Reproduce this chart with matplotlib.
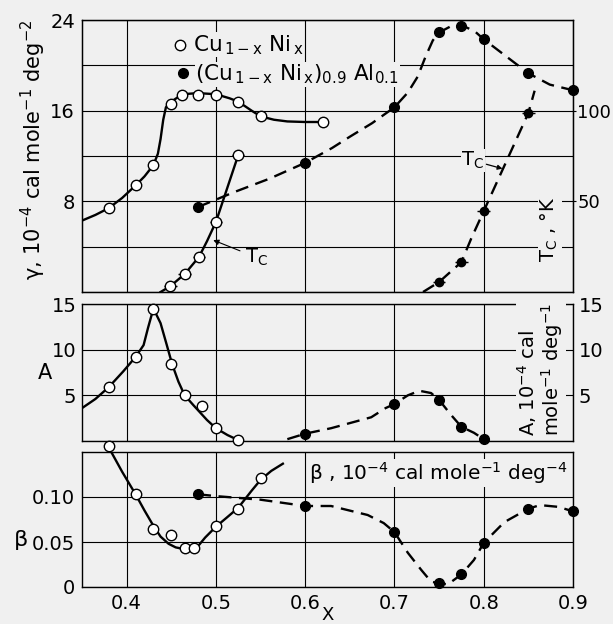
import numpy as np
import matplotlib
matplotlib.use("Agg")
import matplotlib.pyplot as plt

plt.rcParams['font.family'] = ['DejaVu Sans']
plt.rcParams['mathtext.default'] = 'regular'
plt.rcParams['font.size'] = 14

bg = '#f0f0f0'

# ---- gamma panel (Cu1-x Nix, open) ----
gam_cu_x = [0.38, 0.41, 0.43, 0.45, 0.4625, 0.48, 0.50, 0.525, 0.55, 0.62]
gam_cu = [7.4, 9.4, 11.2, 16.6, 17.4, 17.4, 17.4, 16.8, 15.5, 15.0]
gam_cu_line_x = [0.35, 0.365, 0.38, 0.395, 0.41, 0.42, 0.43, 0.435, 0.438, 0.441, 0.444, 0.45,
                 0.4625, 0.48, 0.50, 0.515, 0.525, 0.54, 0.55, 0.565, 0.58, 0.60, 0.62]
gam_cu_line = [6.3, 6.8, 7.4, 8.3, 9.4, 10.2, 11.2, 12.2, 13.5, 15.2, 16.3, 16.8,
               17.45, 17.55, 17.45, 17.1, 16.8, 16.0, 15.5, 15.2, 15.05, 15.0, 15.0]

# ---- gamma panel (Al alloy, filled) ----
gam_al_x = [0.48, 0.60, 0.70, 0.75, 0.775, 0.80, 0.85, 0.90]
gam_al = [7.5, 11.4, 16.3, 22.9, 23.5, 22.3, 19.3, 17.8]
gam_al_line_x = [0.48, 0.52, 0.56, 0.60, 0.63, 0.65, 0.675, 0.70, 0.715, 0.726, 0.735, 0.743,
                 0.75, 0.762, 0.775, 0.79, 0.80, 0.825, 0.85, 0.874, 0.90]
gam_al_line = [7.5, 8.8, 10.0, 11.4, 12.7, 13.7, 14.9, 16.3, 17.6, 19.0, 20.8, 22.2,
               22.9, 23.4, 23.55, 23.0, 22.3, 20.8, 19.3, 18.3, 17.8]

# ---- Tc (right axis, K) ----
tc_cu_x = [0.449, 0.465, 0.481, 0.50, 0.525]
tc_cu = [3.2, 9.9, 19.3, 38.6, 75.5]
tc_cu_line_x = [0.438, 0.449, 0.465, 0.481, 0.49, 0.50, 0.525]
tc_cu_line = [0.0, 3.2, 9.9, 19.3, 28.0, 38.6, 75.5]
tc_al_x = [0.75, 0.775, 0.80, 0.85]
tc_al = [5.5, 16.5, 44.6, 98.7]
tc_al_line_x = [0.732, 0.75, 0.775, 0.786, 0.80, 0.85, 0.857]
tc_al_line = [0.0, 5.5, 16.5, 29.5, 44.6, 98.7, 111.0]

# ---- A panel ----
a_cu_x = [0.38, 0.41, 0.43, 0.45, 0.465, 0.484, 0.50, 0.525]
a_cu = [5.9, 9.2, 14.4, 8.4, 5.0, 3.8, 1.4, 0.1]
a_cu_line_x = [0.35, 0.365, 0.38, 0.396, 0.41, 0.419, 0.424, 0.43, 0.438, 0.445, 0.451,
               0.458, 0.465, 0.475, 0.49, 0.50, 0.513, 0.525]
a_cu_line = [3.6, 4.6, 5.9, 7.6, 9.2, 10.5, 12.4, 14.5, 12.9, 10.5, 8.4,
             6.5, 5.0, 3.9, 2.3, 1.4, 0.65, 0.1]
a_al_x = [0.60, 0.70, 0.75, 0.775, 0.80]
a_al = [0.8, 4.05, 4.5, 1.55, 0.2]
a_al_line_x = [0.58, 0.60, 0.629, 0.674, 0.69, 0.70, 0.715, 0.728, 0.741, 0.75, 0.763,
               0.775, 0.789, 0.80]
a_al_line = [0.2, 0.8, 1.4, 2.6, 3.6, 4.05, 5.0, 5.5, 5.25, 4.5, 2.9,
             1.55, 0.9, 0.2]

# ---- beta panel ----
b_cu_x = [0.38, 0.41, 0.43, 0.45, 0.465, 0.475, 0.50, 0.525, 0.55]
b_cu = [0.157, 0.103, 0.064, 0.058, 0.043, 0.043, 0.068, 0.087, 0.121]
b_cu_line_x = [0.38, 0.395, 0.41, 0.42, 0.43, 0.438, 0.447, 0.455, 0.465, 0.478, 0.488,
               0.50, 0.512, 0.525, 0.54, 0.55, 0.562, 0.575]
b_cu_line = [0.155, 0.128, 0.103, 0.085, 0.068, 0.056, 0.048, 0.044, 0.042, 0.043, 0.055,
             0.067, 0.077, 0.088, 0.107, 0.119, 0.129, 0.137]
b_al_x = [0.48, 0.60, 0.70, 0.75, 0.775, 0.80, 0.85, 0.90]
b_al = [0.103, 0.090, 0.061, 0.004, 0.014, 0.049, 0.087, 0.084]
b_al_line_x = [0.48, 0.50, 0.55, 0.60, 0.629, 0.67, 0.688, 0.70, 0.715, 0.73, 0.741,
               0.75, 0.76, 0.775, 0.789, 0.80, 0.823, 0.85, 0.863, 0.884, 0.90]
b_al_line = [0.103, 0.101, 0.097, 0.090, 0.090, 0.080, 0.071, 0.061, 0.038, 0.019, 0.006,
             0.004, 0.003, 0.014, 0.030, 0.049, 0.072, 0.087, 0.091, 0.089, 0.084]

xticks = [0.4, 0.5, 0.6, 0.7, 0.8, 0.9]

fig = plt.figure(figsize=(6.13, 6.24), dpi=100)
fig.patch.set_facecolor(bg)

L, W = 82 / 613, 491 / 613
ax1 = fig.add_axes([L, 1 - 292 / 624, W, 272 / 624])
ax2 = fig.add_axes([L, 1 - 441 / 624, W, 137 / 624])
ax3 = fig.add_axes([L, 1 - 587 / 624, W, 135 / 624])

open_kw = dict(marker='o', ms=7.5, mfc='white', mec='k', mew=1.0, ls='none', zorder=5, clip_on=False)
fill_kw = dict(marker='o', ms=7, mfc='k', mec='k', ls='none', zorder=5, clip_on=False)
solid = dict(color='k', lw=1.7, zorder=3)
dashed = dict(color='k', lw=1.7, ls=(0, (5.5, 3.2)), zorder=3)

for ax in (ax1, ax2, ax3):
    ax.set_facecolor(bg)
    ax.set_xlim(0.35, 0.9)
    ax.set_xticks(xticks)
    ax.grid(True, color='k', lw=0.8)
    ax.set_axisbelow(True)
    for s in ax.spines.values():
        s.set_linewidth(1.0)
    ax.tick_params(length=0, pad=5, labelsize=14)

# top panel
ax1.set_ylim(0, 24)
ax1.set_yticks([0, 4, 8, 12, 16, 20, 24])
ax1.set_yticklabels(['', '', '8', '', '16', '', '24'])
ax1.tick_params(labelbottom=False)
ax1.plot(gam_cu_line_x, gam_cu_line, **solid)
ax1.plot(gam_cu_x, gam_cu, **open_kw)
ax1.plot(gam_al_line_x, gam_al_line, **dashed)
ax1.plot(gam_al_x, gam_al, **fill_kw)

axt = ax1.twinx()
axt.set_ylim(0, 150)
axt.set_yticks([50, 100])
axt.tick_params(length=2, direction='out', pad=1, labelsize=13)
axt.plot(tc_cu_line_x, tc_cu_line, **solid)
axt.errorbar(tc_cu_x, tc_cu, xerr=0.007, fmt='o', ms=7.5, mfc='white', mec='k', mew=1.0,
             ecolor='k', elinewidth=1.0, capsize=0, zorder=5)
axt.plot(tc_al_line_x, tc_al_line, **dashed)
axt.errorbar(tc_al_x, tc_al, xerr=0.007, fmt='o', ms=6, mfc='k', mec='k',
             ecolor='k', elinewidth=1.0, capsize=0, zorder=5)
axt.annotate('T$_C$', xy=(0.497, 28.6), xytext=(0.533, 19), fontsize=14, va='center',
             arrowprops=dict(arrowstyle='-|>', color='k', lw=0.8, mutation_scale=8, shrinkA=2, shrinkB=0))
axt.annotate('T$_C$', xy=(0.821, 68), xytext=(0.775, 72.5), fontsize=14, va='center',
             bbox=dict(fc=bg, ec='none', pad=0.5),
             arrowprops=dict(arrowstyle='-|>', color='k', lw=0.9, mutation_scale=7, shrinkA=1, shrinkB=0))
axt.text(0.874, 34.5, 'T$_C$ , °K', rotation=90, ha='center', va='center', fontsize=14,
         transform=axt.transData, bbox=dict(fc=bg, ec='none', pad=1))

# legend
ax1.plot([0.46], [21.8], **open_kw)
ax1.plot([0.463], [19.3], **fill_kw)
ax1.text(0.474, 21.8, 'Cu$_{\\,1-x}$ Ni$_{\\,x}$', va='center', fontsize=15.5,
         bbox=dict(fc=bg, ec='none', pad=0.5))
ax1.text(0.477, 19.2, '(Cu$_{\\,1-x}$ Ni$_{\\,x}$)$_{0.9}$ Al$_{0.1}$', va='center', fontsize=15.5,
         bbox=dict(fc=bg, ec='none', pad=0.5))

fig.text(33 / 613, 1 - 150 / 624, r'$\gamma$, 10$^{-4}$ cal mole$^{-1}$ deg$^{-2}$',
         rotation=90, ha='center', va='center', fontsize=15)

# middle panel
ax2.set_ylim(0, 15)
ax2.set_yticks([0, 5, 10, 15])
ax2.set_yticklabels(['', '5', '10', '15'])
ax2.tick_params(labelbottom=False, right=True, labelright=True)
ax2.tick_params(axis='y', which='both', right=True, length=0, pad=4)
ax2.plot(a_cu_line_x, a_cu_line, **solid)
ax2.plot(a_cu_x, a_cu, **open_kw)
ax2.plot(a_al_line_x, a_al_line, **dashed)
ax2.plot(a_al_x, a_al, **fill_kw)
ax2.text(0.933, 0.035, 'A, 10$^{-4}$ cal\nmole$^{-1}$ deg$^{-1}$', rotation=90,
         ha='center', va='bottom', multialignment='left', fontsize=14, linespacing=1.0,
         transform=ax2.transAxes, bbox=dict(fc=bg, ec='none', pad=1))
fig.text(45 / 613, 1 - 373 / 624, 'A', ha='center', va='center', fontsize=15)

# bottom panel
ax3.set_ylim(0, 0.15)
ax3.set_yticks([0, 0.05, 0.10])
ax3.set_yticklabels(['0', '0.05', '0.10'])
ax3.set_xticklabels(['0.4', '0.5', '0.6', '0.7', '0.8', '0.9'])
ax3.plot(b_cu_line_x, b_cu_line, **solid)
ax3.plot(b_cu_x, b_cu, **open_kw)
ax3.plot(b_al_line_x, b_al_line, **dashed)
ax3.plot(b_al_x, b_al, **fill_kw)
ax3.text(0.99, 0.845, r'$\beta$ , 10$^{-4}$ cal mole$^{-1}$ deg$^{-4}$', ha='right', va='center',
         fontsize=14.5, transform=ax3.transAxes, bbox=dict(fc=bg, ec='none', pad=1))
ax3.set_xlabel('X', fontsize=13, labelpad=-5)
fig.text(20 / 613, 1 - 540 / 624, r'$\beta$', ha='center', va='center', fontsize=16)

fig.savefig('out.png', dpi=100, facecolor=bg)
